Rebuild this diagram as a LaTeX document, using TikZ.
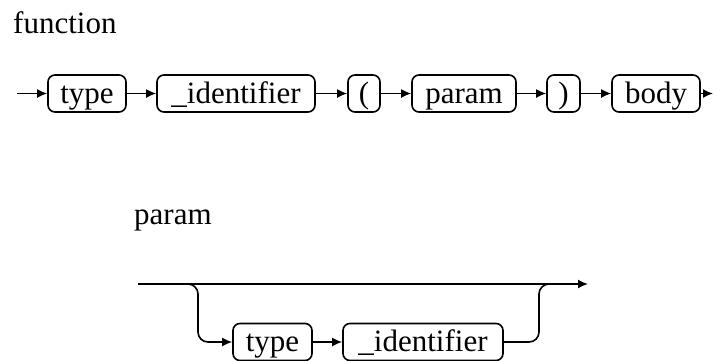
\documentclass[tikz,border=0pt]{standalone}
\usepackage{fontspec}
\setmainfont{Liberation Serif}
\usetikzlibrary{arrows.meta}
\tikzset{
  lbl/.style={font=\fontsize{31}{37}\selectfont, inner sep=0pt},
  rbox/.style={draw, rounded corners=7pt, line width=1.6pt, minimum height=37pt,
    inner sep=0pt, text height=24pt, text depth=5pt, font=\fontsize{31}{37}\selectfont},
  conn/.style={line width=1.6pt, -{Latex[length=10pt,width=9pt]}},
  plain/.style={line width=1.6pt, rounded corners=10pt},
}
\begin{document}
\begin{tikzpicture}[x=1pt,y=1pt]
\useasboundingbox (0,0) rectangle (718,-360);
% titles
\node[lbl, anchor=base west] (t1) at (13,-33) {function};
\node[lbl, anchor=base west] (t2) at (134,-224) {param};
% top row
\coordinate (s) at (17,-93.5);
\coordinate (e) at (713,-93.5);
\node[rbox, minimum width=78pt] (type) at (87,-93.5) {type};
\node[rbox, minimum width=158pt] (id) at (236,-93.5) {\_identifier};
\node[rbox, minimum width=32pt] (lp) at (364,-93.5) {(};
\node[rbox, minimum width=104pt] (par) at (464,-93.5) {param};
\node[rbox, minimum width=33pt] (rp) at (563.5,-93.5) {)};
\node[rbox, minimum width=88pt] (body) at (656,-93.5) {body};
\draw[conn] (s) -- (type);
\draw[conn] (type) -- (id);
\draw[conn] (id) -- (lp);
\draw[conn] (lp) -- (par);
\draw[conn] (par) -- (rp);
\draw[conn] (rp) -- (body);
\draw[conn] (body) -- (e);
% lower diagram
\coordinate (ls) at (138,-284);
\coordinate (le) at (588,-284);
\coordinate (bl) at (178,-284);
\coordinate (br) at (560,-284);
\node[rbox, minimum width=79pt] (type2) at (272.5,-342) {type};
\node[rbox, minimum width=160pt] (id2) at (423,-342) {\_identifier};
\draw[conn] (ls) -- (le);
\draw[plain] (bl) -- (198,-284) -- (198,-342) -- (215,-342);
\draw[conn] (214,-342) -- (type2);
\draw[conn] (type2) -- (id2);
\draw[plain] (id2) -- (539,-342) -- (539,-284) -- (br);
\end{tikzpicture}
\end{document}
